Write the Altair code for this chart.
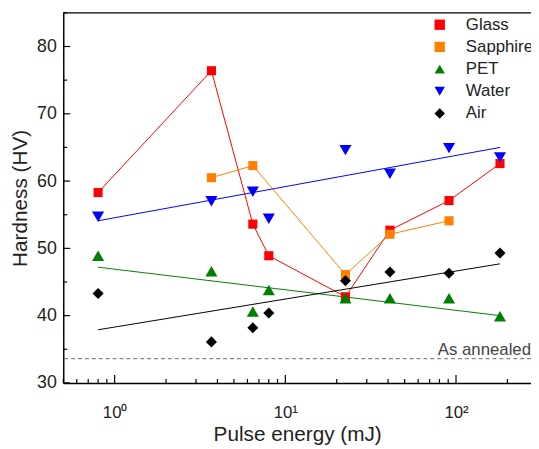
import altair as alt
import pandas as pd

energy = [0.8, 3.69, 6.45, 8.0, 22.5, 41, 91, 181]
glass = [58.3, 76.4, 53.6, 48.9, 42.8, 52.7, 57.1, 62.6]
sapphire_energy = [3.69, 6.45, 22.5, 41, 91]
sapphire = [60.5, 62.3, 46.1, 52.1, 54.1]
pet = [48.9, 46.6, 40.6, 43.8, 42.6, 42.6, 42.6, 39.9]
water = [54.7, 57.0, 58.4, 54.4, 64.6, 61.1, 64.9, 63.5]
air = [43.3, 36.1, 38.2, 40.4, 45.2, 46.5, 46.3, 49.3]

fit_energy = [0.8, 181]
fit_pet = [47.2, 40.0]
fit_water = [54.1, 65.0]
fit_air = [37.9, 47.7]

annealed = 33.6

series = ["Glass", "Sapphire", "PET", "Water", "Air"]
colors = ["#ff0000", "#ff8000", "#008000", "#0000ff", "#000000"]
shapes = ["square", "square", "triangle-up", "triangle-down", "diamond"]
sizes = [85, 85, 150, 150, 125]

rows = []
for name, xs, ys in [("Glass", energy, glass), ("Sapphire", sapphire_energy, sapphire),
                     ("PET", energy, pet), ("Water", energy, water), ("Air", energy, air)]:
    for x, y in zip(xs, ys):
        rows.append({"series": name, "E": x, "HV": y})
pts = pd.DataFrame(rows)

fit_rows = []
for name, ys in [("PET", fit_pet), ("Water", fit_water), ("Air", fit_air)]:
    for x, y in zip(fit_energy, ys):
        fit_rows.append({"series": name, "E": x, "HV": y})
fits = pd.DataFrame(fit_rows)

major_x = [1.0, 10.0, 100.0]
minor_x = [0.5, 0.6, 0.7, 0.8, 0.9] + [float(m * d) for d in (1, 10, 100) for m in range(2, 10)]
minor_x = [t for t in minor_x if t <= 275]
major_y = [30.0, 40.0, 50.0, 60.0, 70.0, 80.0]
minor_y = [35.0, 45.0, 55.0, 65.0, 75.0, 85.0]

FONT = "Liberation Sans"
W, H = 474, 375
YMIN, YMAX = 30, 85
XMIN, XMAX = 0.5, 275

xscale = alt.Scale(type="log", domain=[XMIN, XMAX], nice=False)
yscale = alt.Scale(domain=[YMIN, YMAX], nice=False, zero=False)
cscale = alt.Scale(domain=series, range=colors)
sscale = alt.Scale(domain=series, range=shapes)


def leg():
    return alt.Legend(
        title=None, orient="none", legendX=373, legendY=3.5,
        labelFontSize=17, labelFont=FONT, labelColor="#222",
        rowPadding=4.5, labelOffset=18, symbolStrokeWidth=0, padding=0,
        symbolSize=110,
    )


xaxis = alt.Axis(
    title="Pulse energy (mJ)", values=major_x, grid=False, ticks=False,
    labelExpr="datum.value == 1 ? '10⁰' : datum.value == 10 ? '10¹' : '10²'",
    labelPadding=22, labelFontSize=17, titleFontSize=21, titlePadding=3,
    domainColor="#000", labelColor="#222", titleColor="#222",
    labelFont=FONT, titleFont=FONT, titleFontWeight="normal", domainWidth=1.5,
)
yaxis = alt.Axis(
    title="Hardness (HV)", values=major_y, grid=False, ticks=False,
    labelPadding=7, labelFontSize=18, titleFontSize=21, titlePadding=6,
    domainColor="#000", labelColor="#222", titleColor="#222",
    labelFont=FONT, titleFont=FONT, titleFontWeight="normal", domainWidth=1.5,
)

lines = alt.Chart(pts[pts.series.isin(["Glass", "Sapphire"])]).mark_line(strokeWidth=1).encode(
    x=alt.X("E:Q", scale=xscale, axis=xaxis),
    y=alt.Y("HV:Q", scale=yscale, axis=yaxis),
    color=alt.Color("series:N", scale=cscale, legend=leg()),
    order="E:Q",
)

fitlines = alt.Chart(fits).mark_line(strokeWidth=1).encode(
    x=alt.X("E:Q", scale=xscale),
    y=alt.Y("HV:Q", scale=yscale),
    color=alt.Color("series:N", scale=cscale, legend=leg()),
    detail="series:N",
)

point_layers = []
for name, sz in zip(series, sizes):
    point_layers.append(
        alt.Chart(pts[pts.series == name]).mark_point(filled=True, opacity=1, size=sz).encode(
            x=alt.X("E:Q", scale=xscale),
            y=alt.Y("HV:Q", scale=yscale),
            color=alt.Color("series:N", scale=cscale, legend=leg()),
            shape=alt.Shape("series:N", scale=sscale, legend=leg()),
        )
    )

ann_df = pd.DataFrame({"HV": [annealed], "label": ["As annealed"]})
rule = alt.Chart(ann_df).mark_rule(color="#666", strokeDash=[4, 3], strokeWidth=1).encode(
    y=alt.Y("HV:Q", scale=yscale),
)
text = alt.Chart(ann_df).mark_text(align="right", baseline="alphabetic", dy=-4, fontSize=17,
                                   font=FONT, color="#444").encode(
    y=alt.Y("HV:Q", scale=yscale),
    x=alt.value(W),
    text="label:N",
)

topaxis = alt.Chart(ann_df).mark_rule(color="#000", strokeWidth=1.5).encode(
    x=alt.value(0), x2=alt.value(W), y=alt.value(0),
)

# inward tick marks as rules, positioned with the scales
ypx = (YMAX - YMIN) / H
xdec = 173.0  # pixels per decade
xmaj = pd.DataFrame({"E": major_x, "y0": YMIN, "y1": YMIN + 8 * ypx})
xmin = pd.DataFrame({"E": minor_x, "y0": YMIN, "y1": YMIN + 4 * ypx})
ymaj = pd.DataFrame({"HV": major_y, "x0": XMIN, "x1": XMIN * 10 ** (7 / xdec)})
ymin = pd.DataFrame({"HV": minor_y, "x0": XMIN, "x1": XMIN * 10 ** (4 / xdec)})
tick_x_major = alt.Chart(xmaj).mark_rule(color="#000", strokeWidth=1.2).encode(
    x=alt.X("E:Q", scale=xscale), y=alt.Y("y0:Q", scale=yscale), y2="y1:Q")
tick_x_minor = alt.Chart(xmin).mark_rule(color="#000", strokeWidth=1.2).encode(
    x=alt.X("E:Q", scale=xscale), y=alt.Y("y0:Q", scale=yscale), y2="y1:Q")
tick_y_major = alt.Chart(ymaj).mark_rule(color="#000", strokeWidth=1.2).encode(
    y=alt.Y("HV:Q", scale=yscale), x=alt.X("x0:Q", scale=xscale), x2="x1:Q")
tick_y_minor = alt.Chart(ymin).mark_rule(color="#000", strokeWidth=1.2).encode(
    y=alt.Y("HV:Q", scale=yscale), x=alt.X("x0:Q", scale=xscale), x2="x1:Q")

chart = alt.layer(
    lines, tick_x_major, tick_x_minor, tick_y_major, tick_y_minor,
    rule, text, fitlines, *point_layers, topaxis,
).properties(
    width=W, height=H,
    autosize=alt.AutoSizeParams(type="none"),
    padding={"left": 56, "top": 2, "right": 0, "bottom": 62},
).configure_view(stroke=None)

chart.save("out.html", embed_options={"renderer": "svg", "actions": False})
